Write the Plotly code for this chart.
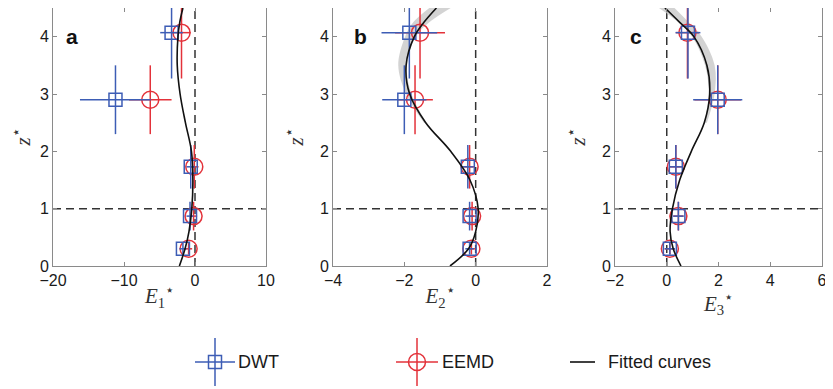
import plotly.graph_objects as go

# ---------------- data ----------------
z_levels = [0.3, 0.87, 1.73, 2.9, 4.07]
z_err = [0.1, 0.25, 0.38, 0.6, 0.8]

# panel a (E1*)
a_dwt = [-1.7, -0.7, -0.6, -11.2, -3.3]
a_dwt_err = [0.5, 0.5, 0.6, 5.0, 1.6]
a_eemd = [-0.9, -0.2, -0.1, -6.3, -1.9]
a_eemd_err = [0.5, 0.5, 0.6, 3.0, 1.3]

# panel b (E2*)
b_dwt = [-0.17, -0.17, -0.22, -2.0, -1.86]
b_dwt_err = [0.12, 0.12, 0.15, 0.62, 0.78]
b_eemd = [-0.12, -0.1, -0.17, -1.7, -1.56]
b_eemd_err = [0.12, 0.12, 0.15, 0.5, 0.7]

# panel c (E3*)
c_dwt = [0.12, 0.45, 0.35, 1.97, 0.82]
c_dwt_err = [0.2, 0.2, 0.25, 0.95, 0.48]
c_eemd = [0.12, 0.45, 0.35, 1.97, 0.8]
c_eemd_err = [0.2, 0.2, 0.25, 0.9, 0.45]

# fitted curves
fit_z = [0.0, 0.3, 0.6, 1.0, 1.5, 2.0, 2.5, 3.0, 3.5, 4.0, 4.25, 4.5]
fit_a = [-2.2, -1.4, -0.85, -0.45, -0.3, -0.5, -1.35, -2.1, -2.5, -2.4, -2.15, -1.7]
fit_b = [-0.72, -0.2, 0.0, 0.07, -0.16, -0.7, -1.4, -1.85, -1.95, -1.72, -1.45, -1.1]
fit_c = [0.55, 0.25, 0.13, 0.22, 0.5, 0.95, 1.45, 1.66, 1.55, 1.05, 0.5, -0.07]

# grey bands around fitted curves (upper part)
band_z = [2.5, 3.0, 3.5, 4.0, 4.25, 4.5]
band_b_lo = [-1.45, -1.95, -2.17, -1.98, -1.75, -1.3]
band_b_hi = [-1.38, -1.8, -1.93, -1.68, -1.3, -0.7]
band_c_lo = [1.45, 1.62, 1.48, 0.98, 0.45, -0.3]
band_c_hi = [1.55, 1.85, 1.85, 1.35, 0.85, 0.3]

x_ranges = [[-20, 10], [-4, 2], [-2, 6]]
x_ticks = [[-20, -10, 0, 10], [-4, -2, 0, 2], [-2, 0, 2, 4, 6]]
y_ticks = [0, 1, 2, 3, 4]
panel_letters = ["a", "b", "c"]
x_titles = ["<i>E</i><sub>1</sub><sup>⋆</sup>", "<i>E</i><sub>2</sub><sup>⋆</sup>",
            "<i>E</i><sub>3</sub><sup>⋆</sup>"]
ref_x = 0.0
ref_z = 1.0

# ---------------- style ----------------
BLUE = "#3d5db5"
RED = "#e3323a"
GREY_AX = "#8a8a8a"
BAND = "rgba(200,200,200,0.8)"

W, H = 825, 381  # page body has an 8px margin

fig = go.Figure()

panels = [
    (a_dwt, a_dwt_err, a_eemd, a_eemd_err, fit_a, None, None),
    (b_dwt, b_dwt_err, b_eemd, b_eemd_err, fit_b, band_b_lo, band_b_hi),
    (c_dwt, c_dwt_err, c_eemd, c_eemd_err, fit_c, band_c_lo, band_c_hi),
]

for i, (dwt, dwt_e, eemd, eemd_e, fit, blo, bhi) in enumerate(panels):
    xa = "x" if i == 0 else f"x{i+1}"
    ya = "y" if i == 0 else f"y{i+1}"
    if blo is not None:
        fig.add_trace(go.Scatter(x=blo, y=band_z, mode="lines", line=dict(width=0, shape="spline"),
                                 xaxis=xa, yaxis=ya, showlegend=False, hoverinfo="skip"))
        fig.add_trace(go.Scatter(x=bhi, y=band_z, mode="lines", line=dict(width=0, shape="spline"),
                                 fill="tonextx", fillcolor=BAND,
                                 xaxis=xa, yaxis=ya, showlegend=False, hoverinfo="skip"))
    fig.add_trace(go.Scatter(
        x=eemd, y=z_levels, mode="markers", xaxis=xa, yaxis=ya, showlegend=False,
        marker=dict(symbol="circle-open", size=17, color=RED, line=dict(width=1.5, color=RED)),
        error_x=dict(type="data", array=eemd_e, color=RED, thickness=1.5, width=0),
        error_y=dict(type="data", array=z_err, color=RED, thickness=1.5, width=0)))
    fig.add_trace(go.Scatter(
        x=dwt, y=z_levels, mode="markers", xaxis=xa, yaxis=ya, showlegend=False,
        marker=dict(symbol="square-open", size=13, color=BLUE, line=dict(width=1.5, color=BLUE)),
        error_x=dict(type="data", array=dwt_e, color=BLUE, thickness=1.5, width=0),
        error_y=dict(type="data", array=z_err, color=BLUE, thickness=1.5, width=0)))
    fig.add_trace(go.Scatter(
        x=fit, y=fit_z, mode="lines", xaxis=xa, yaxis=ya, showlegend=False,
        line=dict(color="#111111", width=1.6, shape="spline")))

# ---------------- axes ----------------
x_domains = [[45 / W, 258 / W], [325 / W, 539 / W], [607 / W, 814 / W]]
y_domain = [123 / H, 1.0]
tickfont = dict(family="Liberation Sans, Arial", size=16, color="#1a1a1a")
axis_common = dict(showline=True, linecolor=GREY_AX, linewidth=1, mirror="ticks",
                   ticks="inside", ticklen=4, tickcolor=GREY_AX, showgrid=False,
                   zeroline=False, tickfont=tickfont, fixedrange=True, automargin=False,
                   ticklabeloverflow="allow")

layout = {}
for i in range(3):
    xk = "xaxis" if i == 0 else f"xaxis{i+1}"
    yk = "yaxis" if i == 0 else f"yaxis{i+1}"
    ya = "y" if i == 0 else f"y{i+1}"
    xa = "x" if i == 0 else f"x{i+1}"
    layout[xk] = dict(domain=x_domains[i], range=x_ranges[i], tickvals=x_ticks[i], anchor=ya,
                      title=dict(text=x_titles[i], standoff=0,
                                 font=dict(family="Liberation Serif, Times New Roman", size=21, color="#333")),
                      **axis_common)
    layout[yk] = dict(domain=y_domain, range=[0, 4.5], tickvals=y_ticks, anchor=xa,
                      title=dict(text="<i>z</i><sup>⋆</sup>", standoff=10,
                                 font=dict(family="Liberation Serif, Times New Roman", size=21, color="#333")),
                      **axis_common)

# hidden axis for legend glyphs
layout["xaxis4"] = dict(domain=[0, 1], range=[0, W], visible=False, fixedrange=True,
                        anchor="y4", automargin=False)
layout["yaxis4"] = dict(domain=[0, 60 / H], range=[0, 60], visible=False, fixedrange=True,
                        anchor="x4", automargin=False)
fig.update_layout(**layout)

leg_y = [27]
fig.add_trace(go.Scatter(
    x=[207], y=leg_y, mode="markers", xaxis="x4", yaxis="y4", showlegend=False, hoverinfo="skip",
    marker=dict(symbol="square-open", size=13, color=BLUE, line=dict(width=1.5, color=BLUE)),
    error_x=dict(type="data", array=[20], color=BLUE, thickness=1.5, width=0),
    error_y=dict(type="data", array=[24], color=BLUE, thickness=1.5, width=0)))
fig.add_trace(go.Scatter(
    x=[409], y=leg_y, mode="markers", xaxis="x4", yaxis="y4", showlegend=False, hoverinfo="skip",
    marker=dict(symbol="circle-open", size=17, color=RED, line=dict(width=1.5, color=RED)),
    error_x=dict(type="data", array=[21], color=RED, thickness=1.5, width=0),
    error_y=dict(type="data", array=[24], color=RED, thickness=1.5, width=0)))
fig.add_trace(go.Scatter(
    x=[562, 587], y=leg_y * 2, mode="lines", xaxis="x4", yaxis="y4", showlegend=False,
    hoverinfo="skip", line=dict(color="#111111", width=1.6)))

legend_labels = [("DWT", 228), ("EEMD", 432), ("Fitted curves", 598)]
annotations = []
for text, xpos in legend_labels:
    annotations.append(dict(text=text, x=xpos, y=leg_y[0], xref="x4", yref="y4", xanchor="left",
                            yanchor="middle", showarrow=False,
                            font=dict(family="Liberation Sans, Arial", size=18, color="#1a1a1a")))

letter_x = [0.09, 0.127, 0.10]
for i in range(3):
    xa = "x" if i == 0 else f"x{i+1}"
    ya = "y" if i == 0 else f"y{i+1}"
    annotations.append(dict(text=f"<b>{panel_letters[i]}</b>", x=letter_x[i], y=0.89,
                            xref=f"{xa} domain", yref=f"{ya} domain", showarrow=False,
                            xanchor="center", yanchor="middle",
                            font=dict(family="Liberation Sans, Arial", size=21, color="#111")))

shapes = []
for i in range(3):
    xa = "x" if i == 0 else f"x{i+1}"
    ya = "y" if i == 0 else f"y{i+1}"
    dash = dict(color="#333333", width=1.5, dash="8px,5px")
    shapes.append(dict(type="line", xref=xa, yref=f"{ya} domain", x0=ref_x, x1=ref_x, y0=0, y1=1,
                       line=dash, layer="below"))
    shapes.append(dict(type="line", xref=f"{xa} domain", yref=ya, x0=0, x1=1, y0=ref_z, y1=ref_z,
                       line=dash, layer="below"))

fig.update_layout(width=W, height=H, margin=dict(l=0, r=0, t=0, b=0),
                  paper_bgcolor="white", plot_bgcolor="white", showlegend=False,
                  annotations=annotations, shapes=shapes)

fig.write_html("out.html")
